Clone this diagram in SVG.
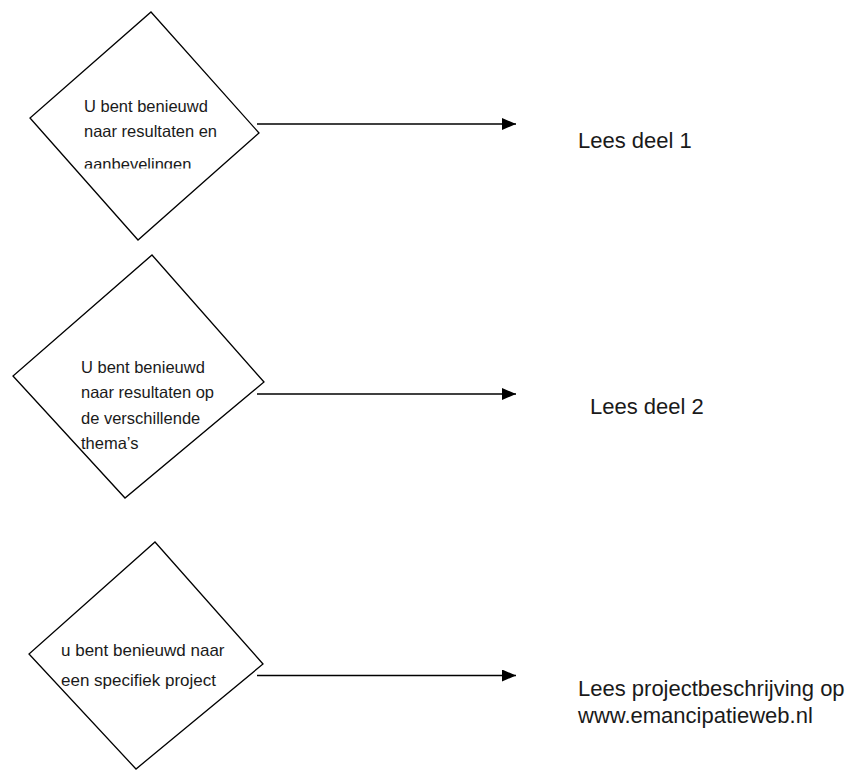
<svg xmlns="http://www.w3.org/2000/svg" width="858" height="771" viewBox="0 0 858 771">
<style>
.shape{fill:#fff;stroke:#000;stroke-width:1.3}
.conn{stroke:#000;stroke-width:1.5;fill:none}
.lbl{font-family:"Liberation Sans",Arial,sans-serif;font-size:16.5px;fill:#1a1a1a}
.out{font-family:"Liberation Sans",Arial,sans-serif;font-size:22px;fill:#1a1a1a}
</style>
<defs>
<marker id="arr" markerWidth="14" markerHeight="12" refX="14" refY="6" orient="auto" markerUnits="userSpaceOnUse">
<path d="M0,0 L14,6 L0,12 Z" fill="#000"/>
</marker>
<clipPath id="clip1"><rect x="60" y="80" width="180" height="88.5"/></clipPath>
</defs>
<rect width="858" height="771" fill="#fff"/>
<g id="d1">
<polygon class="shape" points="151,12 259,133 138,240 30,118"/>
<g clip-path="url(#clip1)">
<text class="lbl" x="84" y="111.5">U bent benieuwd</text>
<text class="lbl" x="84" y="137">naar resultaten en</text>
<text class="lbl" x="84" y="170">aanbevelingen</text>
</g>
</g>
<g id="d2">
<polygon class="shape" points="152,255 264,382 125,498 13,376"/>
<text class="lbl" x="81" y="372.5">U bent benieuwd</text>
<text class="lbl" x="81" y="398">naar resultaten op</text>
<text class="lbl" x="81" y="423.5">de verschillende</text>
<text class="lbl" x="81" y="448.5">thema’s</text>
</g>
<g id="d3">
<polygon class="shape" points="155,542 263,664 136,769 29,654"/>
<text class="lbl" x="61" y="656" style="font-size:17px">u bent benieuwd naar</text>
<text class="lbl" x="61" y="686" style="font-size:17px">een specifiek project</text>
</g>
<g id="o1"><text class="out" x="578" y="148">Lees deel 1</text></g>
<g id="o2"><text class="out" x="590" y="414">Lees deel 2</text></g>
<g id="o3">
<text class="out" x="578" y="696">Lees projectbeschrijving op</text>
<text class="out" x="578" y="723">www.emancipatieweb.nl</text>
</g>
<g id="connectors">
<line class="conn" x1="257" y1="124" x2="516" y2="124" marker-end="url(#arr)"/>
<line class="conn" x1="257" y1="394" x2="516" y2="394" marker-end="url(#arr)"/>
<line class="conn" x1="257" y1="675.5" x2="516" y2="675.5" marker-end="url(#arr)"/>
</g>
</svg>
